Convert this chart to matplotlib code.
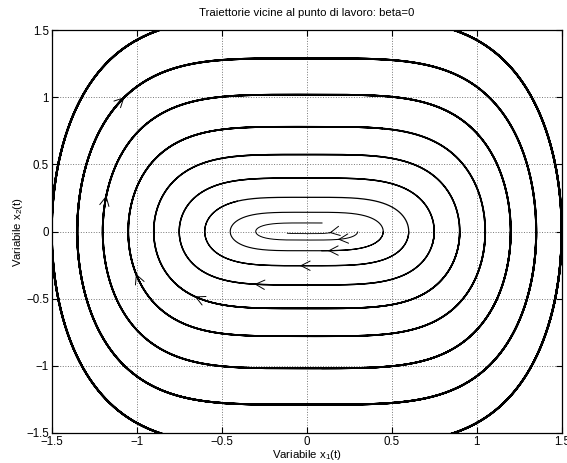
import numpy as np
import matplotlib
matplotlib.use('Agg')
import matplotlib.pyplot as plt

plt.rcParams['font.family'] = ['Liberation Sans', 'DejaVu Sans']
plt.rcParams['mathtext.fontset'] = 'custom'
plt.rcParams['mathtext.rm'] = 'Liberation Sans'
plt.rcParams['mathtext.it'] = 'Liberation Sans'

# --- dati: condizioni iniziali e tempi ---
x1_iniziali = [0.15, 0.30, 0.45, 0.60, 0.75, 0.90, 1.05, 1.20, 1.35, 1.50]
x2_iniziali = [0.0, 0.0, 0.0, 0.0, 0.0, 0.0, 0.0, 0.0, 0.0, 0.0]
t_finale = 20.0
t_freccia = 3.25
beta = 0.0

tick_vals = [-1.5, -1, -0.5, 0, 0.5, 1, 1.5]
tick_labels = ['\u22121.5', '\u22121', '\u22120.5', '0', '0.5', '1', '1.5']


# sistema: x1' = x2 , x2' = -beta*x1 - x1^3
def campo(x1, x2):
    return x2, -beta * x1 - x1 ** 3


# integrazione RK4 (vettoriale su tutte le condizioni iniziali)
dt = 0.004
n_passi = int(round(t_finale / dt))
x1 = np.array(x1_iniziali, dtype=float)
x2 = np.array(x2_iniziali, dtype=float)
X1 = np.empty((n_passi + 1, len(x1)))
X2 = np.empty((n_passi + 1, len(x1)))
X1[0], X2[0] = x1, x2
for k in range(n_passi):
    k1a, k1b = campo(x1, x2)
    k2a, k2b = campo(x1 + dt / 2 * k1a, x2 + dt / 2 * k1b)
    k3a, k3b = campo(x1 + dt / 2 * k2a, x2 + dt / 2 * k2b)
    k4a, k4b = campo(x1 + dt * k3a, x2 + dt * k3b)
    x1 = x1 + dt / 6 * (k1a + 2 * k2a + 2 * k3a + k4a)
    x2 = x2 + dt / 6 * (k1b + 2 * k2b + 2 * k3b + k4b)
    X1[k + 1], X2[k + 1] = x1, x2

# --- figura ---
fig = plt.figure(figsize=(5.67, 4.63), dpi=100)
ax = fig.add_axes([0.0912, 0.0648, 0.8995, 0.8704])

i_freccia = int(round(t_freccia / dt))
for j, a in enumerate(x1_iniziali):
    giri = t_finale * a / 7.416
    lw = 0.55 + 0.23 * giri
    ax.plot(X1[:, j], X2[:, j], color='black', lw=lw, solid_capstyle='butt')
    # freccia di direzione
    p = (X1[i_freccia, j], X2[i_freccia, j])
    q = (X1[i_freccia - 3, j], X2[i_freccia - 3, j])
    ax.annotate('', xy=p, xytext=q,
                arrowprops=dict(arrowstyle='->,head_length=0.55,head_width=0.28',
                                color='black', lw=0.7, mutation_scale=12,
                                shrinkA=0, shrinkB=0))

ax.set_xlim(-1.5, 1.5)
ax.set_ylim(-1.5, 1.5)
ax.set_xticks(tick_vals)
ax.set_xticklabels(tick_labels)
ax.set_yticks(tick_vals)
ax.set_yticklabels(tick_labels)
ax.tick_params(direction='in', length=4, width=0.8, labelsize=8.3,
               top=True, right=True, pad=2, colors='black')
ax.grid(True, linestyle=':', color='#777777', linewidth=0.7)
for s in ax.spines.values():
    s.set_linewidth(0.9)

ax.set_title('Traiettorie vicine al punto di lavoro: beta=0', fontsize=8.2, pad=10)
ax.set_xlabel('Variabile x$_1$(t)', fontsize=8.2, labelpad=0)
ax.set_ylabel('Variabile x$_2$(t)', fontsize=8.2, labelpad=1)

fig.savefig('out.png', dpi=100)
